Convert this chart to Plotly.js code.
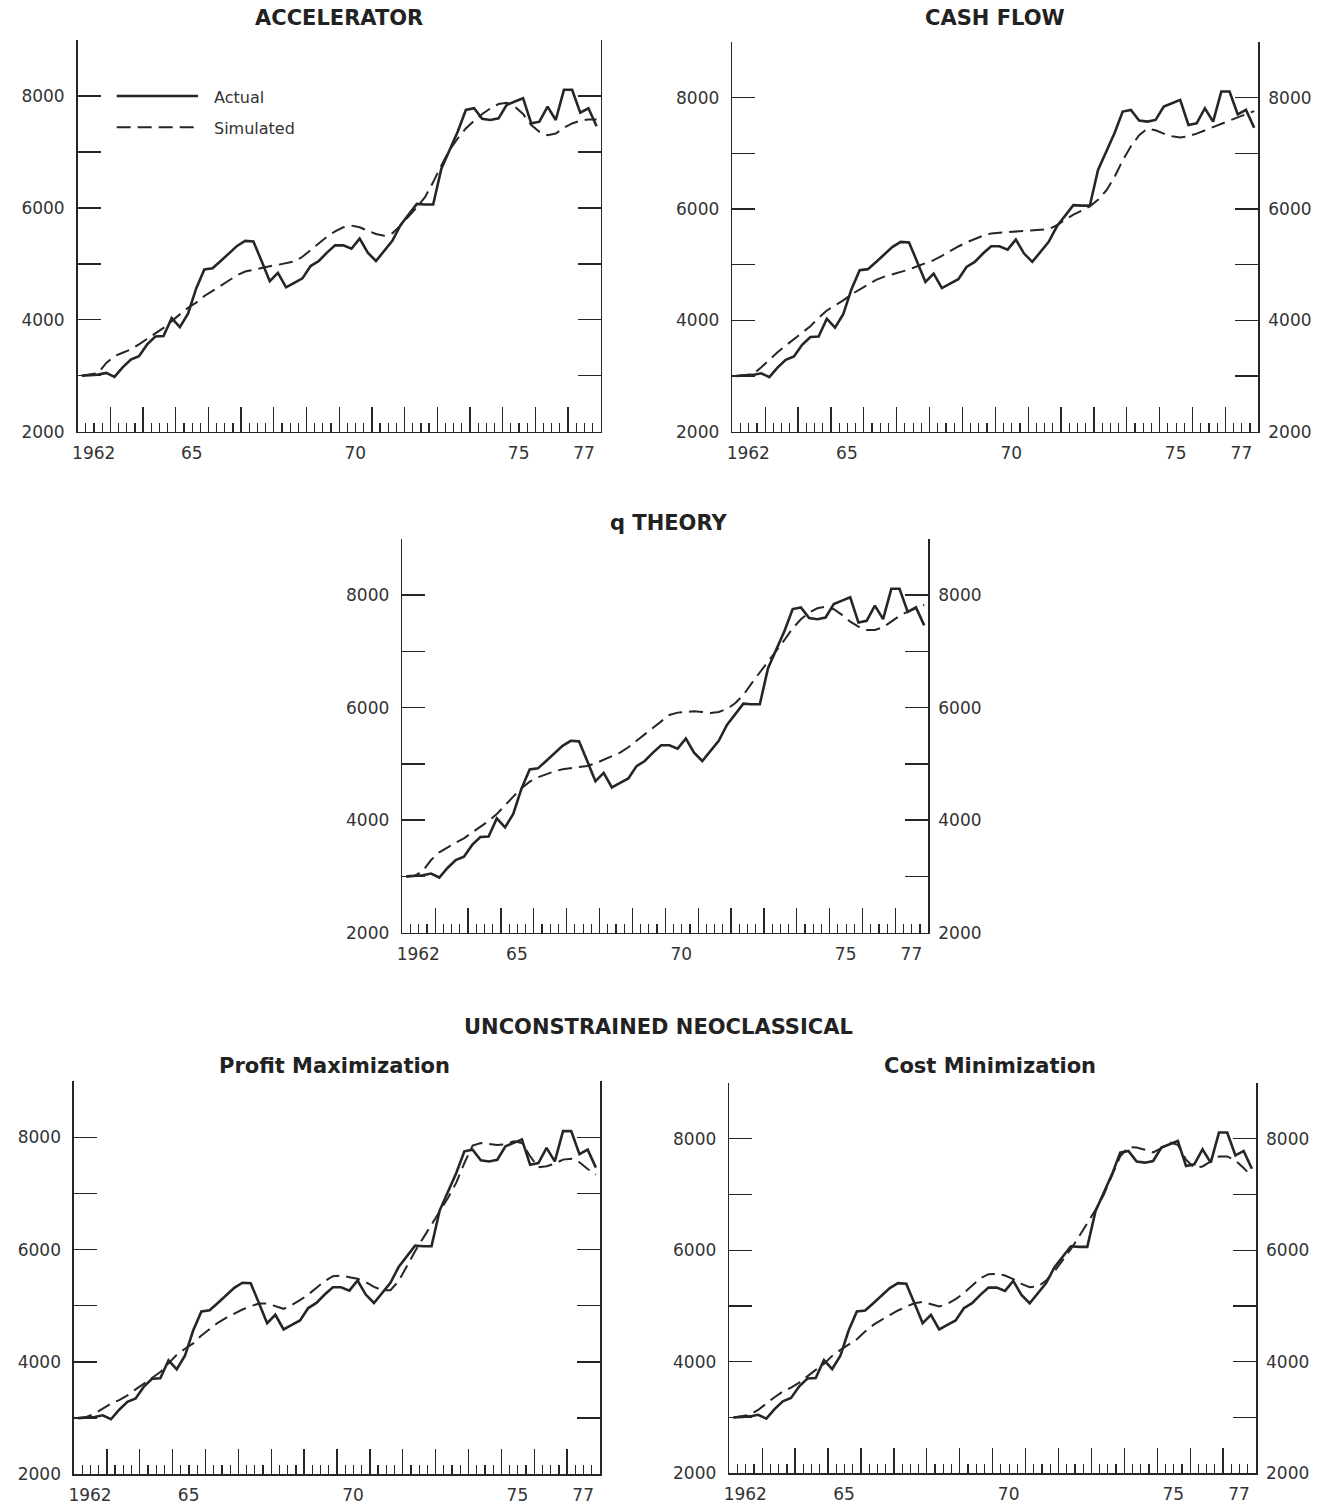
<!DOCTYPE html>
<html>
<head>
<meta charset="utf-8">
<script src="https://cdn.plot.ly/plotly-3.0.1.min.js"></script>
<style>
html,body{margin:0;padding:0;background:#ffffff;}
#chart{width:1327px;height:1505px;}
</style>
</head>
<body>
<div id="chart"></div>
<script>
// ---------------- DATA ----------------
const quarters = [
  "1962:1","1962:2","1962:3","1962:4","1963:1","1963:2","1963:3","1963:4",
  "1964:1","1964:2","1964:3","1964:4","1965:1","1965:2","1965:3","1965:4",
  "1966:1","1966:2","1966:3","1966:4","1967:1","1967:2","1967:3","1967:4",
  "1968:1","1968:2","1968:3","1968:4","1969:1","1969:2","1969:3","1969:4",
  "1970:1","1970:2","1970:3","1970:4","1971:1","1971:2","1971:3","1971:4",
  "1972:1","1972:2","1972:3","1972:4","1973:1","1973:2","1973:3","1973:4",
  "1974:1","1974:2","1974:3","1974:4","1975:1","1975:2","1975:3","1975:4",
  "1976:1","1976:2","1976:3","1976:4","1977:1","1977:2","1977:3","1977:4"
];

const actual = [3000,3010,3020,3050,2980,3150,3290,3350,3560,3700,
  3710,4030,3870,4110,4560,4900,4920,5050,5180,5320,
  5410,5400,5050,4690,4840,4580,4660,4740,4960,5050,
  5200,5330,5330,5270,5450,5200,5050,5230,5410,5690,
  5870,6070,6060,6060,6700,7030,7360,7750,7780,7590,
  7570,7600,7840,7900,7960,7510,7540,7810,7570,8110,
  8110,7700,7780,7460];

const simAccelerator = [3000,3030,3050,3230,3350,3410,3470,3560,3660,3755,
  3856,3976,4096,4216,4305,4425,4515,4605,4707,4796,
  4862,4898,4934,4958,4982,5006,5042,5126,5245,5365,
  5485,5581,5653,5683,5653,5593,5533,5503,5545,5683,
  5844,6012,6192,6461,6760,7030,7240,7419,7557,7677,
  7778,7856,7880,7808,7677,7479,7359,7299,7329,7431,
  7509,7557,7581,7581];

const simCashFlow = [3000,3010,3030,3155,3294,3426,3546,3667,3775,3895,
  4046,4178,4268,4359,4467,4557,4647,4726,4786,4828,
  4870,4912,4972,5020,5081,5159,5249,5327,5400,5460,
  5520,5562,5574,5586,5598,5604,5610,5622,5640,5712,
  5803,5899,5971,6049,6164,6332,6573,6874,7126,7325,
  7445,7415,7355,7307,7283,7307,7355,7415,7475,7535,
  7596,7644,7704,7758];

const simQTheory = [3000,3010,3096,3291,3428,3517,3600,3677,3777,3884,
  3985,4109,4269,4417,4565,4684,4761,4820,4867,4903,
  4921,4938,4962,5009,5069,5128,5199,5294,5412,5531,
  5649,5768,5869,5910,5928,5934,5922,5904,5922,5975,
  6076,6224,6431,6621,6799,6994,7201,7409,7569,7687,
  7764,7794,7746,7646,7527,7438,7379,7379,7427,7527,
  7628,7705,7764,7823];

const simProfitMax = [3000,3020,3080,3174,3257,3322,3405,3512,3618,3725,
  3820,3974,4128,4235,4330,4472,4590,4697,4786,4863,
  4934,4993,5041,5041,4993,4946,5017,5100,5201,5320,
  5438,5527,5539,5509,5480,5420,5337,5278,5278,5438,
  5717,5972,6209,6446,6695,6920,7187,7542,7851,7898,
  7880,7862,7874,7928,7898,7661,7465,7483,7531,7602,
  7619,7554,7436,7335];

const simCostMin = [3000,3020,3047,3136,3256,3364,3465,3537,3627,3746,
  3854,3962,4105,4213,4309,4404,4542,4661,4751,4841,
  4919,4990,5050,5074,5026,4990,5038,5122,5230,5373,
  5499,5571,5577,5547,5481,5397,5337,5349,5457,5618,
  5816,6019,6246,6474,6725,6994,7323,7682,7849,7843,
  7801,7754,7831,7933,7891,7622,7478,7502,7592,7682,
  7682,7610,7473,7323];

const xTickYears = [1962,1963,1964,1965,1966,1967,1968,1969,1970,1971,1972,1973,1974,1975,1976,1977];
const xTickText  = ["1962","","","65","","","","","70","","","","","75","","77"];
const yTickVals  = [2000,3000,4000,5000,6000,7000,8000,9000];
const yTickText  = ["2000","","4000","","6000","","8000",""];
const yRightVals = [2000,4000,6000,8000];
const yRightText = ["2000","4000","6000","8000"];

const seriesNames = ["Actual","Simulated"];
const panelTitles = ["ACCELERATOR","CASH FLOW","q THEORY","Profit Maximization","Cost Minimization"];
const groupTitle = "UNCONSTRAINED NEOCLASSICAL";

// ---------------- LAYOUT / STYLE ----------------
const W = 1327, H = 1505;
const px = v => v / W;
const py = v => 1 - v / H;
const ink = '#262626';
const fam = '"DejaVu Sans", "Liberation Sans", Arial, sans-serif';

// quarter label -> position on the year axis (middle of the quarter)
const xPos = quarters.map(q => { const p = q.split(':'); return Number(p[0]) + (Number(p[1]) - 0.5) / 4; });

const panels = [
  {title: panelTitles[0], sim: simAccelerator, x0: 77.7,  x1: 600.7,  y0: 40.0,   y1: 431.7,  right: false, tx: 339, ty: 18},
  {title: panelTitles[1], sim: simCashFlow,    x0: 732.3, x1: 1258.3, y0: 42.0,   y1: 431.7,  right: true,  tx: 995, ty: 18},
  {title: panelTitles[2], sim: simQTheory,     x0: 402.3, x1: 928.3,  y0: 538.7,  y1: 932.7,  right: true,  tx: 668, ty: 523},
  {title: panelTitles[3], sim: simProfitMax,   x0: 74.0,  x1: 600.0,  y0: 1081.1, y1: 1474.3, right: false, tx: 334, ty: 1066},
  {title: panelTitles[4], sim: simCostMin,     x0: 729.3, x1: 1256.0, y0: 1082.9, y1: 1473.3, right: true,  tx: 990, ty: 1066}
];

const traces = [];
const layout = {
  width: W, height: H,
  margin: {l: 0, r: 0, t: 0, b: 0},
  paper_bgcolor: '#ffffff', plot_bgcolor: 'rgba(0,0,0,0)',
  showlegend: false,
  font: {family: fam, color: ink},
  annotations: [], shapes: []
};

const tickFont = {family: fam, size: 17, color: '#333'};
const titleFont = {family: fam, size: 21, weight: 700, color: '#222'};

let extraY = 6;
panels.forEach((p, k) => {
  const n = k + 1;
  const xa = n === 1 ? 'x' : 'x' + n;
  const ya = n === 1 ? 'y' : 'y' + n;
  const xKey = n === 1 ? 'xaxis' : 'xaxis' + n;
  const yKey = n === 1 ? 'yaxis' : 'yaxis' + n;

  layout[xKey] = {
    domain: [px(p.x0), px(p.x1)], range: [1962, 1978], anchor: ya,
    tickmode: 'array', tickvals: xTickYears, ticktext: xTickText,
    ticks: 'inside', ticklen: 25, tickwidth: 1.3, tickcolor: ink,
    showline: true, linecolor: ink, linewidth: 1.6, mirror: false,
    showgrid: false, zeroline: false,
    ticklabelshift: 16, ticklabelstandoff: 5,
    tickfont: tickFont,
    minor: {dtick: 0.25, tick0: 1962, ticks: 'inside', ticklen: 9, tickwidth: 1.2, tickcolor: ink, showgrid: false},
    fixedrange: true
  };
  layout[yKey] = {
    domain: [py(p.y1), py(p.y0)], range: [2000, 9000], anchor: xa,
    tickmode: 'array', tickvals: yTickVals, ticktext: yTickText,
    ticks: 'inside', ticklen: 23, tickwidth: 1.4, tickcolor: ink,
    showline: true, linecolor: ink, linewidth: 1.6, mirror: 'ticks',
    showgrid: false, zeroline: false,
    ticklabelstandoff: 8,
    tickfont: tickFont,
    fixedrange: true
  };

  traces.push({x: xPos, y: actual, xaxis: xa, yaxis: ya, mode: 'lines', name: seriesNames[0],
               line: {color: ink, width: 2.6}, hoverinfo: 'skip'});
  traces.push({x: xPos, y: p.sim, xaxis: xa, yaxis: ya, mode: 'lines', name: seriesNames[1],
               line: {color: ink, width: 2, dash: '14px,7px'}, hoverinfo: 'skip'});

  if (p.right) {
    const rid = 'y' + extraY;
    layout['yaxis' + extraY] = {
      overlaying: ya, side: 'right', anchor: xa, range: [2000, 9000],
      tickmode: 'array', tickvals: yRightVals, ticktext: yRightText,
      ticks: '', showline: false, showgrid: false, zeroline: false,
      ticklabelstandoff: 9,
      tickfont: tickFont,
      fixedrange: true
    };
    traces.push({x: [null], y: [null], xaxis: xa, yaxis: rid, mode: 'lines', hoverinfo: 'skip', showlegend: false});
    extraY++;
  }

  layout.annotations.push({
    text: p.title, xref: 'paper', yref: 'paper', x: px(p.tx), y: py(p.ty),
    xanchor: 'center', yanchor: 'middle', showarrow: false,
    font: titleFont
  });
});

layout.annotations.push({
  text: groupTitle, xref: 'paper', yref: 'paper', x: px(658), y: py(1027),
  xanchor: 'center', yanchor: 'middle', showarrow: false,
  font: titleFont
});

// legend (top-left panel)
layout.shapes.push({type: 'line', xref: 'paper', yref: 'paper', x0: px(116.7), x1: px(198), y0: py(96), y1: py(96),
                    line: {color: ink, width: 2.6}});
layout.shapes.push({type: 'line', xref: 'paper', yref: 'paper', x0: px(116.7), x1: px(198), y0: py(127.3), y1: py(127.3),
                    line: {color: ink, width: 2, dash: '14px,7px'}});
layout.annotations.push({text: seriesNames[0], xref: 'paper', yref: 'paper', x: px(212), y: py(97),
                         xanchor: 'left', yanchor: 'middle', showarrow: false, font: {family: fam, size: 16, color: '#333'}});
layout.annotations.push({text: seriesNames[1], xref: 'paper', yref: 'paper', x: px(212), y: py(128),
                         xanchor: 'left', yanchor: 'middle', showarrow: false, font: {family: fam, size: 16, color: '#333'}});

Plotly.newPlot('chart', traces, layout, {displayModeBar: false, staticPlot: true});
</script>
</body>
</html>
